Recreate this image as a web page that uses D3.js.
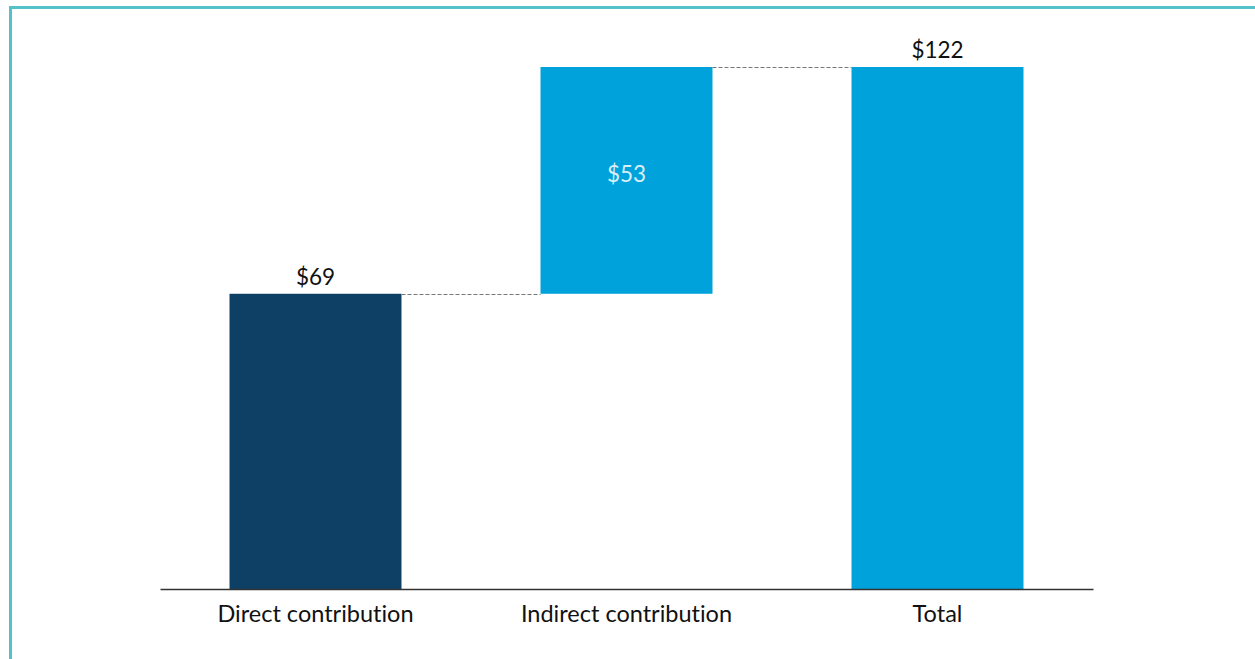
<!DOCTYPE html>
<html>
<head>
<meta charset="utf-8">
<script src="https://cdn.jsdelivr.net/npm/d3@7"></script>
<style>
  html, body { margin: 0; padding: 0; background: #fff; }
  svg { display: block; }
  text { font-family: Lato, "Open Sans", sans-serif; font-variant-ligatures: none; font-feature-settings: "liga" 0; }
</style>
</head>
<body>
<svg id="chart" width="1255" height="659"></svg>
<script>
const categories = ["Direct contribution", "Indirect contribution", "Total"];
const values = [69, 53, 122];
const isTotal = [false, false, true];
const valueLabels = ["$69", "$53", "$122"];

const W = 1255, H = 659;
const svg = d3.select("#chart");

// frame (top and left border)
svg.append("line").attr("x1", 9).attr("x2", W).attr("y1", 7.5).attr("y2", 7.5)
  .attr("stroke", "#55c1c9").attr("stroke-width", 3);
svg.append("line").attr("x1", 10.5).attr("x2", 10.5).attr("y1", 6).attr("y2", H)
  .attr("stroke", "#55c1c9").attr("stroke-width", 3);

// compute waterfall segments
let running = 0;
const data = categories.map((c, i) => {
  let start, end;
  if (isTotal[i]) { start = 0; end = values[i]; running = values[i]; }
  else { start = running; end = running + values[i]; running = end; }
  return { cat: c, value: values[i], start, end, label: valueLabels[i], total: isTotal[i], idx: i };
});

const x = d3.scaleBand().domain(categories).range([160, 1093])
  .paddingInner(0.447).paddingOuter(0.2235);
const y = d3.scaleLinear().domain([0, 122]).range([589, 67]);

const colors = ["#0e4066", "#00a2db", "#00a2db"];

svg.selectAll("rect.bar").data(data).enter().append("rect")
  .attr("class", "bar")
  .attr("x", d => x(d.cat))
  .attr("width", x.bandwidth())
  .attr("y", d => y(d.end))
  .attr("height", d => y(d.start) - y(d.end))
  .attr("fill", (d, i) => colors[i]);

// connector lines
for (let i = 0; i < data.length - 1; i++) {
  const d = data[i], n = data[i + 1];
  svg.append("line")
    .attr("x1", x(d.cat) + x.bandwidth())
    .attr("x2", x(n.cat))
    .attr("y1", Math.round(y(d.end)) + 0.5)
    .attr("y2", Math.round(y(d.end)) + 0.5)
    .attr("stroke", "#777")
    .attr("stroke-width", 1)
    .attr("stroke-dasharray", "4,2");
}

// axis
const axis = d3.axisBottom(x).tickSize(0).tickPadding(16);
const gAxis = svg.append("g").attr("transform", "translate(0,589)").call(axis);
gAxis.select(".domain").attr("stroke", "#333").attr("stroke-width", 1.5);
gAxis.selectAll("text").attr("font-size", 23.5).attr("fill", "#111")
  .attr("font-family", "Lato, 'Open Sans', sans-serif");

// value labels
svg.selectAll("text.val").data(data).enter().append("text")
  .attr("class", "val")
  .attr("x", d => x(d.cat) + x.bandwidth() / 2)
  .attr("y", d => (d.total || d.idx === 0) ? y(d.end) - 9 : (y(d.start) + y(d.end)) / 2)
  .attr("dy", d => (d.total || d.idx === 0) ? 0 : "0.05em")
  .attr("text-anchor", "middle")
  .attr("font-size", 22.5)
  .attr("fill", d => (d.total || d.idx === 0) ? "#111" : "#d9eef6")
  .text(d => d.label);
</script>
</body>
</html>
